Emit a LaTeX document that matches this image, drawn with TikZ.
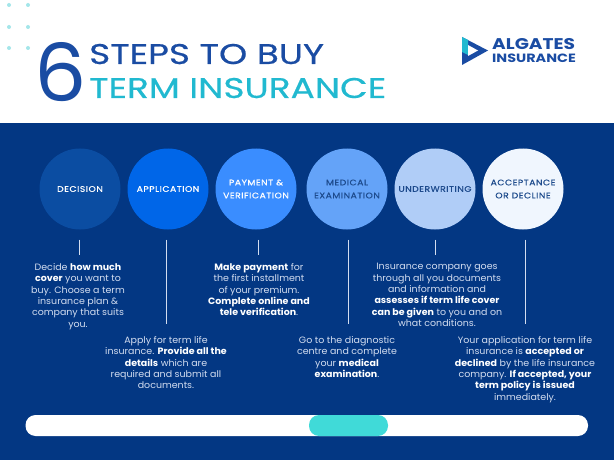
\documentclass[tikz,border=0pt]{standalone}
\usepackage{fontspec}
\usepackage{xcolor}
\usepackage{tikz}
\usetikzlibrary{positioning}
\setmainfont[FakeStretch=1.03]{Poppins}
\newfontfamily\capsfont[LetterSpace=6,FakeStretch=1.16,FakeBold=0.4]{Poppins}
\newfontfamily\titlefont[FakeStretch=1.26,FakeBold=0.5]{Poppins}
\newfontfamily\logofont[FakeStretch=1.2]{Poppins}
\definecolor{banner}{HTML}{033783}
\definecolor{titleblue}{HTML}{1A4CA3}
\definecolor{titleteal}{HTML}{21B9D0}
\definecolor{dotteal}{HTML}{A4E6EA}
\definecolor{pillteal}{HTML}{40DAD8}
\definecolor{softwhite}{HTML}{D3DDF0}
\definecolor{labeldark}{HTML}{1D4A8C}
\definecolor{stepa}{HTML}{0B4DA2}
\definecolor{stepb}{HTML}{0066E8}
\definecolor{stepc}{HTML}{3A8DFF}
\definecolor{stepd}{HTML}{64A3F8}
\definecolor{stepe}{HTML}{B0CDF7}
\definecolor{stepf}{HTML}{F0F6FE}
\tikzset{
	stepcircle/.style={circle,minimum size=81pt,inner sep=0pt,align=center,
		font=\capsfont\fontsize{8}{13}\selectfont},
	steptext/.style={anchor=north,align=center,inner sep=0pt,text=softwhite,
		font=\fontsize{9.2}{11.4}\selectfont},
	stem/.style={softwhite,line width=1pt,shorten <=10pt},
	title/.style={anchor=base west,inner sep=0pt,font=\titlefont\fontsize{28.5}{28.5}\selectfont},
	logotext/.style={anchor=base west,inner sep=0pt,text=titleblue},
}
\newcommand{\hi}[1]{{\bfseries\color{white}#1}}

\begin{document}
\begin{tikzpicture}[x=1pt,y=-1pt]
	\useasboundingbox (0,0) rectangle (614,460);
	\fill[white] (0,0) rectangle (614,123);
	\fill[banner] (0,123) rectangle (614,460);

	\foreach \p in {(9,5),(28,5),(9,27),(28,27),(9,48),(28,48)}
		\fill[dotteal] \p circle (2pt);

	% title
	\node[title,text=titleblue,font=\fontsize{80}{80}\selectfont] (six) at (34,102) {6};
	\node[title,text=titleblue] (buy) at (89,64) {STEPS TO BUY};
	\node[title,text=titleteal] (term) at (89,98) {TERM INSURANCE};

	% logo
	\fill[titleblue] (462,37)--(488,50.5)--(462,65)--cycle;
	\fill[titleteal] (462,37)--(468,40)--(468,55)--(462,52)--cycle;
	\fill[white] (468,45)--(478,50.5)--(468,56)--cycle;
	\node[logotext,font=\logofont\bfseries\fontsize{15.5}{15.5}\selectfont]
		(algates) at (492,50) {ALGATES};
	\node[logotext,font=\logofont\bfseries\fontsize{12}{12}\selectfont]
		(insurance) at (492,63) {INSURANCE};

	% circles
	\node[stepcircle,fill=stepa,text=white] (decision) at (80,189) {DECISION};
	\node[stepcircle,fill=stepb,text=white] (application) at (168,189) {APPLICATION};
	\node[stepcircle,fill=stepc,text=white] (payment) at (256,189) {PAYMENT \&\\VERIFICATION};
	\node[stepcircle,fill=stepd,text=labeldark] (medical) at (347,189) {MEDICAL\\EXAMINATION};
	\node[stepcircle,fill=stepe,text=labeldark] (underwriting) at (435,189) {UNDERWRITING};
	\node[stepcircle,fill=stepf,text=labeldark] (acceptance) at (523,189) {ACCEPTANCE\\OR DECLINE};

	% stems
	\coordinate (decisionend) at (79,255);
	\coordinate (applicationend) at (166.5,324);
	\coordinate (paymentend) at (258,255);
	\coordinate (medicalend) at (348,324);
	\coordinate (underwritingend) at (435,255);
	\coordinate (acceptanceend) at (525,324);
	\foreach \s in {decision,application,payment,medical,underwriting,acceptance}
		\draw[stem] (\s end |- \s.south) -- (\s end);

	% texts
	\node[steptext] (decisiontext) at (78,263) {Decide \hi{how much}\\
		\hi{cover} you want to\\buy. Choose a term\\insurance plan \&\\
		company that suits\\you.};
	\node[steptext] (applicationtext) at (166,336) {Apply for term life\\
		insurance. \hi{Provide all the}\\\hi{details} which are\\
		required and submit all\\documents.};
	\node[steptext] (paymenttext) at (259,263) {\hi{Make payment} for\\
		the first installment\\of your premium.\\\hi{Complete online and}\\
		\hi{tele verification}.};
	\node[steptext] (medicaltext) at (347,336) {Go to the diagnostic\\
		centre and complete\\your \hi{medical}\\\hi{examination}.};
	\node[steptext] (underwritingtext) at (437,263) {Insurance company goes\\
		through all you documents\\and information and\\
		\hi{assesses if term life cover}\\\hi{can be given} to you and on\\
		what conditions.};
	\node[steptext] (acceptancetext) at (525,336) {Your application for term life\\
		insurance is \hi{accepted or}\\\hi{declined} by the life insurance\\
		company. \hi{If accepted, your}\\\hi{term policy is issued}\\
		immediately.};

	% bar
	\fill[white,rounded corners=10pt] (25.5,415) rectangle (588,436);
	\fill[pillteal,rounded corners=10pt] (309,415) rectangle (388,436);
\end{tikzpicture}
\end{document}
